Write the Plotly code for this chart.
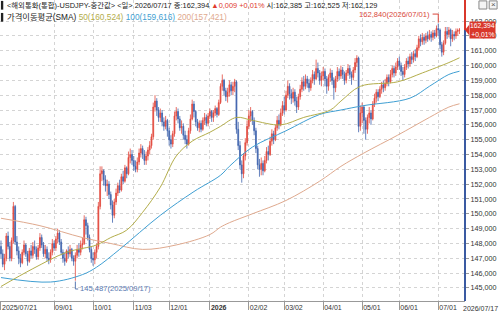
import plotly.graph_objects as go
import pandas as pd

# ---------------- data ----------------
dates = [d.strftime('%Y-%m-%d') for d in pd.bdate_range('2025-07-21', '2026-07-17')]

closes = [147.3,146.6,147.0,148.5,147.8,147.0,148.2,150.5,148.1,147.5,
          147.0,146.7,147.4,147.9,147.3,146.8,147.5,147.2,147.8,147.6,
          147.1,147.7,148.4,147.9,147.3,147.6,147.0,146.9,147.4,148.0,
          147.7,148.3,148.7,148.1,147.4,147.0,146.8,147.5,147.3,147.6,
          147.0,146.8,147.2,147.6,147.4,147.9,148.0,149.6,149.2,148.4,
          147.6,147.0,146.9,147.4,147.8,150.5,152.7,152.9,152.3,151.9,
          152.0,151.3,150.6,149.9,150.8,151.4,151.9,151.6,152.5,152.2,
          153.1,152.7,153.8,154.0,153.6,153.2,153.0,153.5,154.1,154.4,
          154.0,153.6,153.9,154.3,154.6,155.2,157.2,157.6,157.0,156.5,
          156.8,156.2,155.9,156.3,155.6,155.0,154.7,155.4,156.6,156.9,
          156.4,155.8,155.9,155.3,155.0,154.7,155.6,156.4,157.4,156.9,
          156.2,155.8,156.1,155.7,156.3,156.5,156.1,156.6,156.9,156.5,
          156.8,157.1,156.7,157.5,158.6,159.0,158.3,157.9,158.2,158.7,
          158.3,158.6,158.9,155.7,154.6,153.3,152.7,153.9,154.8,155.9,
          156.6,156.9,156.3,155.6,154.4,153.3,153.0,153.4,152.9,153.6,
          154.2,154.0,154.9,155.4,155.0,155.8,156.3,156.0,156.8,157.3,
          157.0,158.0,158.6,158.1,157.8,158.2,157.6,157.2,157.9,158.4,
          158.9,158.6,159.1,158.8,158.5,159.0,159.4,159.1,159.8,159.5,
          159.0,159.3,159.6,159.1,158.6,159.2,159.5,159.0,158.5,159.1,
          159.6,159.3,159.7,159.4,159.0,159.5,159.8,159.4,159.2,159.7,
          160.2,160.5,155.9,156.8,157.2,156.3,155.7,156.5,156.8,156.4,
          157.4,157.8,158.2,157.9,158.4,158.7,158.5,158.8,159.2,158.9,
          159.4,159.8,159.5,159.9,160.3,160.0,159.6,159.4,159.9,160.3,
          160.1,160.6,160.4,160.8,160.6,161.2,161.8,161.6,161.9,161.7,
          162.0,161.8,162.1,161.9,162.2,162.0,162.5,162.4,161.4,160.9,
          161.5,162.3,162.1,162.4,161.8,162.1,162.0,162.3,162.385,162.394]

highs = [148.2,147.6,147.3,148.7,148.8,148.1,148.4,150.8,150.6,148.5,
         147.8,147.3,147.6,148.2,148.0,147.5,147.7,147.9,148.1,148.2,
         147.8,147.9,148.7,148.6,148.1,147.9,147.8,147.4,147.6,148.3,
         148.2,148.5,149.0,148.9,148.3,147.6,147.4,147.6,147.8,147.9,
         147.7,147.2,147.4,147.9,148.0,148.2,148.4,149.9,149.8,149.4,
         148.6,147.8,147.4,147.6,148.0,150.8,153.2,153.2,153.0,152.6,
         152.3,152.2,151.5,150.9,151.0,151.7,152.1,152.3,152.7,152.9,
         153.3,153.2,154.2,154.4,154.3,153.9,153.6,153.8,154.4,154.7,
         154.6,154.3,154.2,154.5,154.9,155.4,157.5,158.0,157.8,157.2,
         157.1,157.0,156.5,156.6,156.4,155.8,155.3,155.6,156.9,157.2,
         157.1,156.6,156.3,156.1,155.6,155.3,155.8,156.7,157.7,157.6,
         157.0,156.4,156.3,156.3,156.5,156.8,156.7,156.8,157.1,157.0,
         157.0,157.3,157.2,157.7,158.8,159.4,159.1,158.5,158.5,159.0,
         158.9,158.9,159.1,159.0,156.2,154.9,153.6,154.1,155.1,156.3,
         157.0,157.2,157.0,156.5,155.8,154.6,153.7,153.8,153.6,153.9,
         154.5,154.6,155.2,155.7,155.6,156.0,156.6,156.7,157.1,157.6,
         157.9,158.3,159.0,158.8,158.4,158.5,158.4,157.9,158.1,158.7,
         159.2,159.3,159.4,159.3,159.1,159.2,159.7,159.6,160.4,160.2,
         159.7,159.6,159.9,159.8,159.3,159.4,159.8,159.7,159.2,159.3,
         159.9,159.8,160.0,159.9,159.6,159.7,160.1,160.0,159.6,159.9,
         160.5,160.7,160.6,157.3,157.5,157.3,156.5,156.7,157.2,157.0,
         157.6,158.1,158.4,158.4,158.6,158.9,159.0,159.1,159.4,159.4,
         159.7,160.0,160.0,160.2,160.5,160.6,160.2,159.9,160.1,160.5,
         160.6,160.8,160.9,161.0,161.1,161.4,162.0,162.1,162.2,162.1,
         162.2,162.3,162.4,162.3,162.4,162.4,162.7,162.84,162.5,161.6,
         161.7,162.6,162.6,162.6,162.5,162.4,162.3,162.5,162.5,162.525]

lows = [147.0,146.4,146.2,146.8,147.6,146.8,146.8,148.0,147.9,147.2,
        146.6,146.4,146.6,147.2,147.1,146.5,146.7,147.0,147.0,147.3,
        146.9,146.9,147.5,147.7,147.1,147.0,146.8,146.6,146.7,147.2,
        147.5,147.5,148.0,147.9,147.2,146.7,146.5,146.7,147.0,147.1,
        146.8,146.5,145.487,147.0,147.1,147.2,147.6,147.9,148.6,148.2,
        147.4,146.7,146.5,146.6,147.0,147.6,150.3,152.2,151.9,151.5,
        151.2,151.0,150.3,149.4,149.7,150.6,151.2,151.4,151.5,152.0,
        152.1,152.4,152.6,153.4,153.3,152.9,152.8,152.8,153.3,153.8,
        153.7,153.3,153.3,153.6,154.0,154.4,155.0,156.9,156.6,156.2,
        156.2,155.9,155.6,155.7,155.2,154.6,154.4,154.5,155.2,156.3,
        156.1,155.6,155.4,155.0,154.7,154.4,154.6,155.4,156.3,156.5,
        155.9,155.6,155.5,155.5,155.6,156.0,155.9,155.9,156.4,156.2,
        156.2,156.6,156.5,156.6,157.4,158.3,158.0,157.6,157.5,157.9,
        158.0,158.0,158.2,155.4,154.3,153.0,152.1,152.4,153.6,154.6,
        155.7,156.2,156.0,155.3,154.1,153.0,152.5,152.6,152.6,152.8,
        153.4,153.6,153.9,154.6,154.7,154.9,155.6,155.7,155.9,156.6,
        156.7,156.9,157.8,157.7,157.4,157.5,157.3,156.8,157.0,157.7,
        158.2,158.3,158.4,158.5,158.2,158.3,158.8,158.7,159.0,159.2,
        158.7,158.6,159.0,158.6,158.1,158.3,158.9,158.7,157.7,158.2,
        158.9,159.0,159.1,159.1,158.7,158.8,159.3,159.1,158.7,159.0,
        159.5,159.9,155.5,155.6,156.1,155.4,155.0,155.4,156.1,156.0,
        156.3,157.2,157.5,157.6,157.8,158.1,158.2,158.3,158.6,158.6,
        158.8,159.2,159.2,159.3,159.7,159.7,159.3,159.0,159.2,159.7,
        159.8,159.9,160.1,160.2,160.3,160.5,161.0,161.3,161.4,161.4,
        161.5,161.6,161.7,161.6,161.7,161.8,161.9,162.0,161.1,160.6,
        160.7,161.4,161.8,161.9,161.3,161.6,161.7,161.8,162.0,162.129]

first_open = 147.8
opens = [first_open] + closes[:-1]   # each session opens at the prior close

sma50_idx = [0,18,37,54,62,71,80,90,99,108,118,124,133,142,158,171,186,192,203,224,238,253,259]
sma50_val = [145.1,146.3,147.4,147.9,148.4,148.9,150.1,151.8,153.9,154.9,155.5,155.9,156.5,156.3,
             156.0,156.5,157.0,157.6,158.6,158.9,159.5,160.2,160.524]
sma100_idx = [0,28,46,54,67,90,109,124,129,142,161,180,192,205,231,242,253,259]
sma100_val = [145.7,145.4,145.9,146.4,147.6,149.9,151.5,152.6,153.2,154.5,155.6,156.7,157.0,157.3,
              157.8,158.6,159.4,159.616]
sma200_idx = [0,22,46,62,80,99,118,124,129,142,161,180,192,205,224,242,253,259]
sma200_val = [149.7,149.2,148.4,148.0,147.6,147.9,148.6,149.1,149.4,150.0,150.9,152.2,153.2,154.1,
              155.3,156.5,157.2,157.421]

tick_dates = ['2025-07-21','2025-09-01','2025-10-01','2025-11-03','2025-12-01','2026-01-01',
              '2026-02-02','2026-03-02','2026-04-01','2026-05-01','2026-06-01','2026-07-01']
tick_labels = ['2025/07/21','09/01','10/01','11/03','12/01','<b>2026</b>',
               '02/02','03/02','04/01','05/01','06/01','07/01']
y_ticks = [145,146,147,148,149,150,151,152,153,154,155,156,157,158,159,160,161,162,163]

hi_idx, hi_val, hi_text = 247, 162.84, '162,840(2026/07/01)'
lo_idx, lo_val, lo_text = 42, 145.487, '145,487(2025/09/17)'

# ---------------- styles ----------------
UP = '#e2493d'
DOWN = '#3f63ad'
C50 = '#b3ad4a'
C100 = '#3f9fd3'
C200 = '#dfa98e'
FONT = 'Liberation Sans, Noto Sans CJK KR, sans-serif'
YMIN, YMAX = 144.12, 164.42

fig = go.Figure()
fig.add_trace(go.Candlestick(
    x=dates, open=opens, high=highs, low=lows, close=closes,
    increasing=dict(line=dict(color=UP, width=0.8), fillcolor=UP),
    decreasing=dict(line=dict(color=DOWN, width=0.8), fillcolor=DOWN),
    whiskerwidth=0, hoverinfo='skip'))

for idx, val, col in [(sma200_idx, sma200_val, C200), (sma100_idx, sma100_val, C100),
                      (sma50_idx, sma50_val, C50)]:
    fig.add_trace(go.Scatter(x=[dates[i] for i in idx], y=val, mode='lines',
                             line=dict(color=col, width=1, shape='spline', smoothing=1),
                             hoverinfo='skip'))

last = closes[-1]
shapes = [
    dict(type='line', xref='paper', yref='y', x0=1, x1=1, y0=YMIN, y1=last,
         line=dict(color='#3a5aa2', width=2)),
    dict(type='line', xref='paper', yref='y', x0=1, x1=1, y0=last, y1=YMAX,
         line=dict(color='#d9372b', width=2)),
    dict(type='rect', xref='paper', yref='paper', x0=0.002, x1=0.007, y0=0.968, y1=0.997,
         fillcolor='#222', line=dict(width=0)),
    dict(type='rect', xref='paper', yref='paper', x0=0.002, x1=0.007, y0=0.928, y1=0.957,
         fillcolor='#222', line=dict(width=0)),
    dict(type='rect', xref='paper', yref='paper', x0=1.030, x1=1.047, y0=0.970, y1=0.997,
         line=dict(color='#888', width=1), fillcolor='#f4f4f4'),
    dict(type='rect', xref='paper', yref='paper', x0=1.052, x1=1.069, y0=0.970, y1=0.997,
         line=dict(color='#888', width=1), fillcolor='#f4f4f4'),
    dict(type='path', xref='x', yref='y',
         path=f'M {hi_idx-3.2},163.47 L {hi_idx},163.47 L {hi_idx},{hi_val+0.05}',
         line=dict(color='#d9463a', width=1)),
    dict(type='path', xref='x', yref='y',
         path=f'M {lo_idx},{lo_val-0.05} L {lo_idx},144.93 L {lo_idx+1.6},144.93',
         line=dict(color='#5878b0', width=1)),
    dict(type='path', xref='paper', yref='y',
         path=f'M 1.0,{last} L 1.009,{last+0.35} L 1.009,{last-0.35} Z',
         fillcolor='#d9372b', line=dict(width=0)),
]

header1 = ('<span style="color:#222">&lt;해외통화(통합)-USDJPY-중간값&gt; &lt;일&gt; 2026/07/17 종:162,394 </span>'
           '<span style="color:#e0392c">▲0,009 +0,01%</span>'
           '<span style="color:#222"> 시:162,385 고:162,525 저:162,129</span>')
header2 = ('<span style="color:#222">가격이동평균(SMA) </span>'
           f'<span style="color:{C50}">50(160,524)</span> '
           f'<span style="color:{C100}">100(159,616)</span> '
           f'<span style="color:{C200}">200(157,421)</span>')

annotations = [
    dict(xref='paper', yref='paper', x=0.011, y=0.983, xanchor='left', yanchor='middle',
         text=header1, showarrow=False, font=dict(size=7.4, family=FONT)),
    dict(xref='paper', yref='paper', x=0.011, y=0.943, xanchor='left', yanchor='middle',
         text=header2, showarrow=False, font=dict(size=8.3, family=FONT)),
    dict(xref='x', yref='y', x=hi_idx-3.3, y=163.47, xanchor='right', yanchor='middle',
         text=hi_text, showarrow=False, font=dict(size=7.6, color='#d9463a', family=FONT)),
    dict(xref='x', yref='y', x=lo_idx+1.7, y=144.93, xanchor='left', yanchor='middle',
         text=lo_text, showarrow=False, font=dict(size=7.6, color='#5878b0', family=FONT)),
    dict(xref='paper', yref='y', x=1.009, y=last, xanchor='left', yanchor='middle',
         text='162,394<br>+0,01%', showarrow=False, align='right', bgcolor='#d9372b',
         borderpad=0, font=dict(size=6.8, color='white', family=FONT)),
    dict(xref='paper', yref='paper', x=1.075, y=0, xanchor='right', yanchor='top', yshift=-2,
         text='2026/07/17', showarrow=False, font=dict(size=7, color='#333', family=FONT)),
    dict(xref='paper', yref='paper', x=1.0605, y=0.9835, xanchor='center', yanchor='middle',
         text='×', showarrow=False, font=dict(size=8, color='#555', family=FONT)),
]

fig.update_layout(
    width=500, height=314, margin=dict(l=0, r=35, t=0, b=13),
    paper_bgcolor='white', plot_bgcolor='white', showlegend=False,
    separators=',.', font=dict(family=FONT, size=7, color='#333'),
    shapes=shapes, annotations=annotations, hovermode=False,
    xaxis=dict(type='category', range=[-0.56, 262.1], tickmode='array',
               tickvals=tick_dates, ticktext=tick_labels, ticks='outside', ticklen=8,
               tickcolor='#999', showgrid=True, gridcolor='#d4d4d4', griddash='dot',
               showline=True, linecolor='#999', rangeslider=dict(visible=False),
               ticklabelposition='outside right', tickfont=dict(size=7, color='#333'),
               fixedrange=True),
    yaxis=dict(side='right', range=[YMIN, YMAX], tickmode='array', tickvals=y_ticks,
               tickformat='.3f', ticks='outside', ticklen=3, tickcolor='#999', showgrid=True,
               gridcolor='#d4d4d4', griddash='dot', showline=False, zeroline=False,
               tickfont=dict(size=7.2, color='#333'), fixedrange=True),
)

fig.write_html('out.html')
